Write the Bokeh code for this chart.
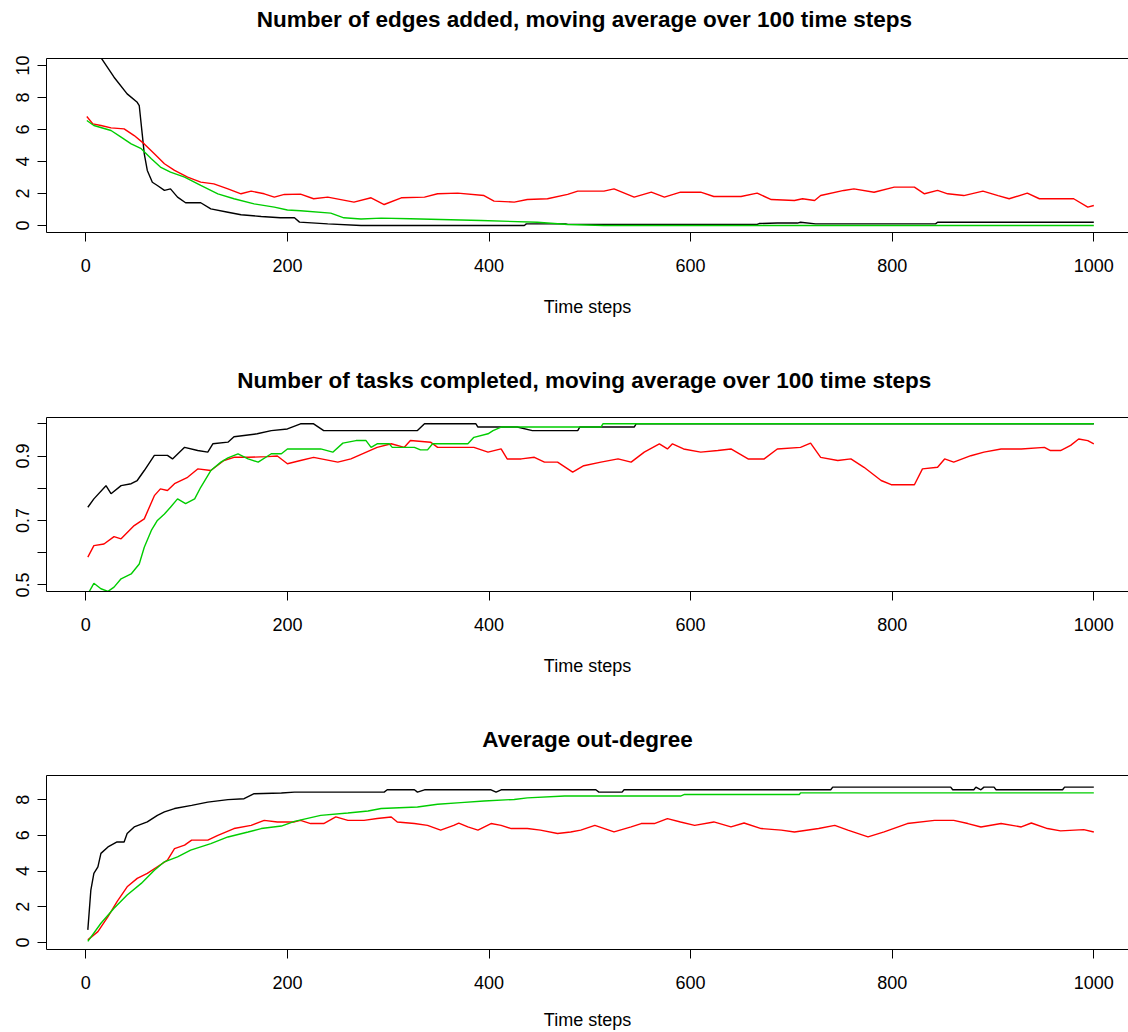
from bokeh.plotting import figure
from bokeh.layouts import column
from bokeh.models import Range1d, FixedTicker, LinearAxis
from bokeh.embed import file_html
from bokeh.resources import INLINE

FONT = "Liberation Sans"
BLACK = "#000000"
RED = "#FF0000"
GREEN = "#00CD00"

X_TICKS = [0, 200, 400, 600, 800, 1000]
X_START = -39
X_END = 1034.4

# ---------- Panel 1: Number of edges added ----------
title1 = "Number of edges added, moving average over 100  time steps"
p1_black_x = [1, 16, 28, 41, 51, 53, 56, 58, 61, 66, 71, 78, 84, 91, 99, 114, 124, 141, 154, 174, 193, 207, 212, 240, 273, 435, 437, 476, 478, 666, 668, 686, 706, 709, 724, 843, 845, 1000]
p1_black_y = [11.6, 10.4, 9.27, 8.23, 7.7, 7.5, 5.7, 4.48, 3.44, 2.7, 2.5, 2.19, 2.29, 1.77, 1.42, 1.42, 1.04, 0.83, 0.67, 0.56, 0.48, 0.48, 0.21, 0.10, 0.0, 0.0, 0.1, 0.1, 0.07, 0.07, 0.12, 0.15, 0.15, 0.2, 0.1, 0.1, 0.2, 0.2]
p1_red_x = [1, 7, 15, 25, 38, 48, 58, 68, 78, 88, 101, 114, 127, 141, 154, 164, 177, 187, 197, 213, 226, 240, 266, 283, 296, 313, 336, 349, 369, 395, 405, 425, 438, 458, 478, 488, 514, 524, 544, 561, 574, 590, 610, 623, 650, 666, 680, 703, 711, 723, 729, 752, 762, 782, 802, 822, 832, 845, 855, 871, 890, 905, 916, 934, 946, 980, 994, 1000]
p1_red_y = [6.81, 6.35, 6.25, 6.1, 6.04, 5.62, 5.1, 4.48, 3.86, 3.44, 3.02, 2.71, 2.6, 2.29, 1.98, 2.15, 1.98, 1.77, 1.94, 1.96, 1.67, 1.77, 1.46, 1.73, 1.31, 1.73, 1.77, 1.98, 2.02, 1.87, 1.52, 1.46, 1.62, 1.67, 1.94, 2.15, 2.15, 2.29, 1.77, 2.08, 1.77, 2.08, 2.08, 1.81, 1.81, 2.02, 1.62, 1.56, 1.67, 1.56, 1.87, 2.19, 2.29, 2.08, 2.4, 2.4, 1.98, 2.19, 1.98, 1.87, 2.15, 1.87, 1.67, 2.02, 1.67, 1.67, 1.15, 1.25]
p1_green_x = [1, 8, 25, 35, 45, 55, 65, 74, 84, 98, 114, 131, 147, 167, 187, 200, 213, 243, 256, 273, 293, 322, 392, 448, 478, 514, 1000]
p1_green_y = [6.56, 6.25, 5.94, 5.52, 5.1, 4.8, 4.17, 3.65, 3.33, 3.02, 2.5, 1.98, 1.67, 1.35, 1.15, 0.97, 0.92, 0.77, 0.48, 0.4, 0.46, 0.42, 0.31, 0.2, 0.06, 0.0, 0.0]
p1_yrange = (-0.44, 10.44)
p1_yticks = [0, 2, 4, 6, 8, 10]
p1_ylabels = {}

# ---------- Panel 2: Number of tasks completed ----------
title2 = "Number of tasks completed, moving average over 100  time steps"
p2_black_x = [2, 8, 20, 25, 35, 45, 51, 58, 68, 81, 86, 98, 111, 121, 126, 141, 147, 170, 184, 200, 213, 226, 236, 329, 336, 387, 389, 428, 443, 488, 490, 544, 546, 1000]
p2_black_y = [0.741, 0.767, 0.808, 0.783, 0.808, 0.814, 0.824, 0.855, 0.902, 0.902, 0.891, 0.927, 0.917, 0.912, 0.938, 0.943, 0.96, 0.969, 0.979, 0.984, 1.0, 1.0, 0.979, 0.979, 1.0, 1.0, 0.99, 0.99, 0.979, 0.979, 0.99, 0.99, 1.0, 1.0]
p2_red_x = [2, 8, 18, 28, 35, 48, 58, 68, 74, 81, 88, 101, 111, 124, 137, 147, 161, 180, 190, 200, 213, 226, 250, 263, 289, 303, 316, 322, 342, 349, 385, 399, 412, 418, 432, 445, 455, 468, 483, 494, 511, 528, 541, 554, 569, 577, 582, 593, 610, 627, 640, 657, 673, 686, 709, 719, 729, 746, 759, 772, 789, 799, 822, 830, 845, 852, 861, 878, 891, 908, 928, 951, 957, 967, 977, 985, 994, 1000]
p2_red_y = [0.586, 0.622, 0.627, 0.65, 0.643, 0.684, 0.705, 0.777, 0.798, 0.793, 0.814, 0.834, 0.86, 0.855, 0.886, 0.896, 0.896, 0.898, 0.9, 0.876, 0.886, 0.896, 0.881, 0.891, 0.927, 0.938, 0.927, 0.948, 0.943, 0.927, 0.927, 0.912, 0.922, 0.891, 0.891, 0.896, 0.881, 0.881, 0.85, 0.87, 0.881, 0.891, 0.881, 0.912, 0.938, 0.922, 0.938, 0.922, 0.912, 0.917, 0.922, 0.891, 0.891, 0.922, 0.927, 0.94, 0.896, 0.886, 0.891, 0.865, 0.824, 0.811, 0.811, 0.86, 0.865, 0.891, 0.881, 0.901, 0.912, 0.922, 0.922, 0.927, 0.917, 0.917, 0.933, 0.953, 0.948, 0.938]
p2_green_x = [3, 8, 15, 22, 28, 35, 45, 53, 58, 65, 71, 78, 84, 91, 99, 108, 114, 124, 134, 141, 151, 161, 171, 184, 194, 200, 233, 245, 255, 268, 278, 283, 289, 301, 304, 326, 332, 339, 344, 379, 385, 399, 404, 412, 511, 513, 1000]
p2_green_y = [0.477, 0.505, 0.488, 0.48, 0.493, 0.519, 0.534, 0.565, 0.617, 0.669, 0.7, 0.72, 0.741, 0.767, 0.752, 0.767, 0.803, 0.855, 0.881, 0.894, 0.907, 0.891, 0.881, 0.907, 0.907, 0.922, 0.922, 0.912, 0.94, 0.948, 0.948, 0.927, 0.938, 0.938, 0.927, 0.927, 0.919, 0.919, 0.938, 0.938, 0.958, 0.969, 0.979, 0.99, 0.99, 1.0, 1.0]
p2_yrange = (0.4795, 1.0196)
p2_yticks = [0.5, 0.6, 0.7, 0.8, 0.9, 1.0]
p2_ylabels = {0.5: "0.5", 0.6: "", 0.7: "0.7", 0.8: "", 0.9: "0.9", 1.0: ""}

# ---------- Panel 3: Average out-degree ----------
title3 = "Average out-degree"
p3_black_x = [2, 3, 5, 8, 12, 15, 22, 31, 38, 41, 48, 61, 71, 78, 88, 105, 121, 141, 157, 167, 194, 207, 296, 299, 326, 329, 336, 402, 407, 412, 506, 509, 532, 534, 739, 741, 858, 860, 881, 883, 888, 891, 901, 903, 969, 971, 1000]
p3_black_y = [0.71, 1.45, 2.94, 3.87, 4.24, 4.99, 5.35, 5.63, 5.63, 6.1, 6.47, 6.75, 7.12, 7.31, 7.5, 7.68, 7.86, 8.0, 8.05, 8.33, 8.37, 8.42, 8.42, 8.55, 8.55, 8.42, 8.55, 8.55, 8.42, 8.55, 8.55, 8.42, 8.42, 8.55, 8.55, 8.7, 8.7, 8.55, 8.55, 8.7, 8.55, 8.7, 8.7, 8.55, 8.55, 8.7, 8.7]
p3_red_x = [2, 12, 22, 31, 41, 51, 61, 71, 81, 88, 98, 105, 121, 131, 147, 164, 177, 190, 207, 213, 223, 236, 248, 260, 276, 289, 303, 309, 326, 339, 352, 365, 370, 379, 389, 402, 412, 422, 438, 451, 468, 481, 491, 505, 524, 541, 551, 564, 577, 590, 604, 623, 640, 653, 670, 690, 703, 727, 743, 756, 776, 792, 815, 842, 861, 875, 888, 908, 928, 938, 954, 967, 990, 1000]
p3_red_y = [0.15, 0.61, 1.45, 2.29, 3.12, 3.59, 3.87, 4.24, 4.61, 5.26, 5.45, 5.73, 5.73, 6.0, 6.38, 6.56, 6.84, 6.75, 6.75, 6.84, 6.66, 6.66, 7.03, 6.84, 6.84, 6.94, 7.03, 6.75, 6.66, 6.56, 6.29, 6.56, 6.69, 6.47, 6.29, 6.66, 6.56, 6.38, 6.38, 6.29, 6.1, 6.19, 6.29, 6.56, 6.19, 6.47, 6.66, 6.66, 6.94, 6.75, 6.56, 6.75, 6.47, 6.69, 6.38, 6.29, 6.19, 6.38, 6.56, 6.29, 5.91, 6.19, 6.66, 6.84, 6.84, 6.66, 6.47, 6.66, 6.47, 6.69, 6.38, 6.25, 6.32, 6.19]
p3_green_x = [2, 15, 28, 41, 55, 68, 78, 91, 104, 124, 141, 161, 174, 194, 207, 233, 260, 280, 293, 329, 349, 372, 395, 425, 438, 475, 590, 594, 708, 709, 1000]
p3_green_y = [0.06, 1.08, 1.92, 2.66, 3.31, 4.05, 4.52, 4.8, 5.17, 5.54, 5.91, 6.19, 6.38, 6.52, 6.78, 7.12, 7.25, 7.36, 7.5, 7.59, 7.74, 7.83, 7.92, 8.01, 8.1, 8.2, 8.2, 8.29, 8.29, 8.38, 8.38]
p3_yrange = (-0.39, 9.35)
p3_yticks = [0, 2, 4, 6, 8]
p3_ylabels = {}

X_LABEL = "Time steps"


def make_panel(title, series, yrange, yticks, ylabels, height, top, bottom,
               tick_standoff, xlab_standoff, title_standoff):
    p = figure(width=1128, height=height, output_backend="svg", toolbar_location=None,
               x_range=Range1d(X_START, X_END), y_range=Range1d(*yrange),
               min_border_left=46, min_border_right=0,
               min_border_top=top, min_border_bottom=bottom)
    p.background_fill_color = "white"
    p.border_fill_color = "white"
    p.outline_line_color = None
    p.xgrid.visible = False
    p.ygrid.visible = False

    # top edge of the box, carrying the panel title
    top_axis = LinearAxis(ticker=FixedTicker(ticks=[]), axis_line_color=BLACK,
                          axis_line_width=1, major_tick_out=0, major_tick_in=0,
                          minor_tick_out=0, minor_tick_in=0,
                          major_label_standoff=0, major_tick_line_color=None,
                          minor_tick_line_color=None,
                          axis_label=title, axis_label_standoff=title_standoff,
                          axis_label_text_font=FONT, axis_label_text_font_size="22.5px",
                          axis_label_text_font_style="bold", axis_label_text_color=BLACK)
    p.add_layout(top_axis, "above")

    xa = p.below[0]
    ya = p.left[0]
    for ax in (xa, ya):
        ax.axis_line_color = BLACK
        ax.axis_line_width = 1
        ax.major_tick_line_color = BLACK
        ax.major_tick_line_width = 1
        ax.major_tick_out = 9
        ax.major_tick_in = 0
        ax.minor_tick_line_color = None
        ax.major_label_text_font = FONT
        ax.major_label_text_font_size = "18px"
        ax.major_label_text_color = BLACK

    xa.ticker = FixedTicker(ticks=X_TICKS)
    xa.major_label_standoff = tick_standoff
    xa.axis_label = X_LABEL
    xa.axis_label_text_font = FONT
    xa.axis_label_text_font_size = "18px"
    xa.axis_label_text_font_style = "normal"
    xa.axis_label_text_color = BLACK
    xa.axis_label_standoff = xlab_standoff

    ya.ticker = FixedTicker(ticks=yticks)
    ya.major_label_orientation = "vertical"
    ya.major_label_standoff = 8
    if ylabels:
        ya.major_label_overrides = ylabels

    for xs, ys, c in series:
        p.line(xs, ys, line_color=c, line_width=1.4)
    return p


p1 = make_panel(title1, [(p1_black_x, p1_black_y, BLACK), (p1_red_x, p1_red_y, RED), (p1_green_x, p1_green_y, GREEN)],
                p1_yrange, p1_yticks, p1_ylabels, 359, 58, 127, 17, 22, 27)
p2 = make_panel(title2, [(p2_black_x, p2_black_y, BLACK), (p2_red_x, p2_red_y, RED), (p2_green_x, p2_green_y, GREEN)],
                p2_yrange, p2_yticks, p2_ylabels, 358, 58, 126, 17, 22, 25)
p3 = make_panel(title3, [(p3_black_x, p3_black_y, BLACK), (p3_red_x, p3_red_y, RED), (p3_green_x, p3_green_y, GREEN)],
                p3_yrange, p3_yticks, p3_ylabels, 315, 58, 82, 17, 18, 24)

layout = column(p1, p2, p3, spacing=0)
open("out.html", "w").write(file_html(layout, INLINE))
